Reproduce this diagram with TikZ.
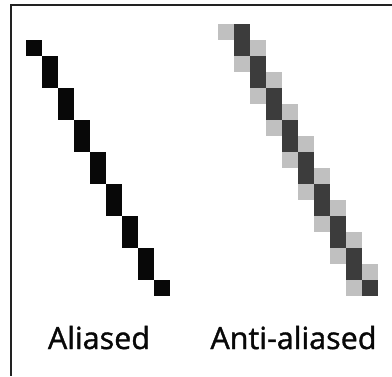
\documentclass[tikz,border=0pt]{standalone}
\usepackage{fontspec}
\setmainfont{Open Sans}[Ligatures=NoCommon, FakeBold=1.2]
\definecolor{pxblack}{HTML}{080808}
\definecolor{pxdark}{HTML}{3C3C3C}
\definecolor{pxlight}{HTML}{C0C0C0}
\definecolor{frameline}{HTML}{222222}
\begin{document}
\begin{tikzpicture}[x=1pt,y=-1pt,
  label text/.style={anchor=base, font=\fontsize{30.5}{36}\selectfont, text=pxblack, inner sep=0pt}]
\useasboundingbox (0,0) rectangle (392,376);
\fill[white] (0,0) rectangle (392,376);
\draw[line width=2pt, frameline] (392,5) -- (11,5) -- (11,376);
% aliased line
\fill[pxblack] (26,40) rectangle ++(16,16);
\foreach \k in {1,...,7}
  \fill[pxblack] ({26+16*\k},{40+16*(2*\k-1)}) rectangle ++(16,32);
\fill[pxblack] (154,280) rectangle ++(16,16);
% anti-aliased line
\fill[pxlight] (218,24) rectangle ++(16,16);
\foreach \k in {1,...,8} {
  \fill[pxdark] ({218+16*\k},{24+16*(2*\k-2)}) rectangle ++(16,32);
  \fill[pxlight] ({218+16*\k},{24+32*\k}) rectangle ++(16,16);
}
\foreach \k in {2,...,9}
  \fill[pxlight] ({218+16*\k},{24+16*(2*\k-3)}) rectangle ++(16,16);
\fill[pxdark] (362,280) rectangle ++(16,16);
% labels
\node[label text] (al) at (99,349) {Aliased};
\node[label text] (aa) at (293.5,349) {Anti-aliased};
\end{tikzpicture}
\end{document}
